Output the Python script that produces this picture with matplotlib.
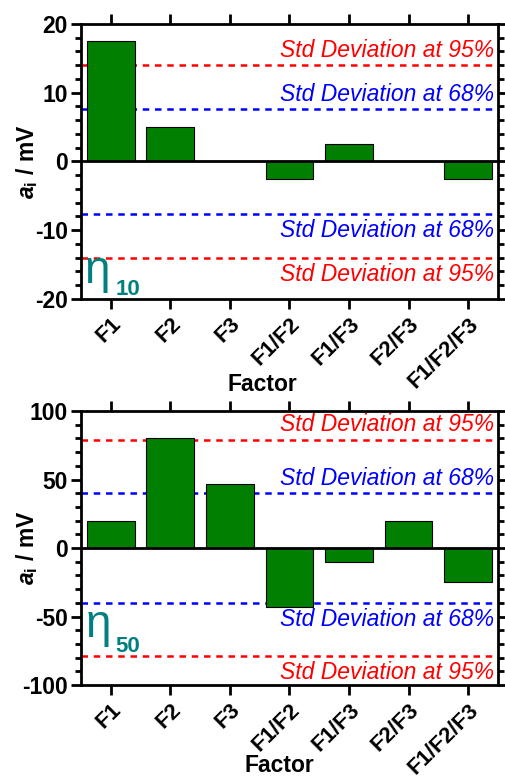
import matplotlib
matplotlib.use('Agg')
import matplotlib.pyplot as plt
from matplotlib.ticker import MultipleLocator

plt.rcParams['font.family'] = ['Liberation Sans', 'DejaVu Sans']
plt.rcParams['axes.unicode_minus'] = False
plt.rcParams['mathtext.fontset'] = 'custom'
plt.rcParams['mathtext.rm'] = 'Liberation Sans'
plt.rcParams['mathtext.it'] = 'Liberation Sans:italic:bold'
plt.rcParams['mathtext.bf'] = 'Liberation Sans:bold'

factors = ['F1', 'F2', 'F3', 'F1/F2', 'F1/F3', 'F2/F3', 'F1/F2/F3']
eta10_values = [17.5, 5.0, 0.0, -2.5, 2.5, 0.0, -2.5]
eta50_values = [20, 80, 47, -43, -10, 20, -25]
eta10_std68 = 7.6
eta10_std95 = 14.0
eta50_std68 = 40
eta50_std95 = 79


def draw_panel(ax, values, std68, std95, ylim, major, minor, xlabel_xy):
    x = list(range(len(factors)))
    ax.bar(x, values, width=0.8, color='#007f00', edgecolor='black', linewidth=0.8, zorder=2)
    ax.axhline(0, color='black', lw=2, zorder=3)
    for val, col, pct in [(std95, 'red', '95%'), (std68, 'blue', '68%')]:
        for s in (1, -1):
            ax.axhline(s * val, color=col, lw=1.8, dashes=(2.6, 2.3), zorder=1)
            # text sits just above the upper lines and below the lower ones
            ax.annotate('Std Deviation at ' + pct, xy=(0.99, s * val),
                        xycoords=ax.get_yaxis_transform(),
                        xytext=(0, 6 if s > 0 else -16.5), textcoords='offset points',
                        ha='right', va='baseline', color=col, fontsize=16.5, style='italic')
    ax.set_xlim(-0.5, len(factors) - 0.5)
    ax.set_ylim(*ylim)
    ax.yaxis.set_major_locator(MultipleLocator(major))
    ax.yaxis.set_minor_locator(MultipleLocator(minor))
    ax.set_xticks(x)
    ax.set_xticklabels(factors, rotation=45, ha='right', rotation_mode='anchor', fontweight='bold', fontsize=16)
    for lab in ax.get_yticklabels():
        lab.set_fontweight('bold')
    ax.tick_params(axis='y', which='major', direction='out', length=7.5, width=2, labelsize=16.5, right=True, pad=2)
    ax.tick_params(axis='y', which='minor', direction='out', length=4.5, width=2, right=True)
    ax.tick_params(axis='x', which='major', direction='out', length=7.5, width=2, top=True, pad=3)
    for sp in ax.spines.values():
        sp.set_linewidth(2)
    ax.set_xlabel('Factor', fontsize=16.5, fontweight='bold')
    ax.xaxis.set_label_coords(*xlabel_xy)
    ax.set_ylabel(r'$\mathbf{\mathit{a}}_{\mathbf{i}}$ / mV', fontsize=16.5, fontweight='bold')
    ax.yaxis.set_label_coords(-0.098, 0.5)
    return ax


fig = plt.figure(figsize=(5.06, 7.78), dpi=100)

ax1 = fig.add_axes([0.160, 0.6157, 0.824, 0.3535])
ax2 = fig.add_axes([0.160, 0.1195, 0.824, 0.3522])

draw_panel(ax1, eta10_values, eta10_std68, eta10_std95, (-20, 20), 10, 2, (0.436, -0.27))
draw_panel(ax2, eta50_values, eta50_std68, eta50_std95, (-100, 100), 50, 10, (0.475, -0.253))

teal = '#008080'
ax1.text(0.010, 0.058, 'η', transform=ax1.transAxes, fontsize=33, color=teal, va='baseline')
ax1.text(0.082, 0.013, '10', transform=ax1.transAxes, fontsize=16, color=teal, fontweight='bold', va='baseline')
ax2.text(0.012, 0.176, 'η', transform=ax2.transAxes, fontsize=33, color=teal, va='baseline')
ax2.text(0.082, 0.122, '50', transform=ax2.transAxes, fontsize=16, color=teal, fontweight='bold', va='baseline')

fig.savefig('out.png', dpi=100)
